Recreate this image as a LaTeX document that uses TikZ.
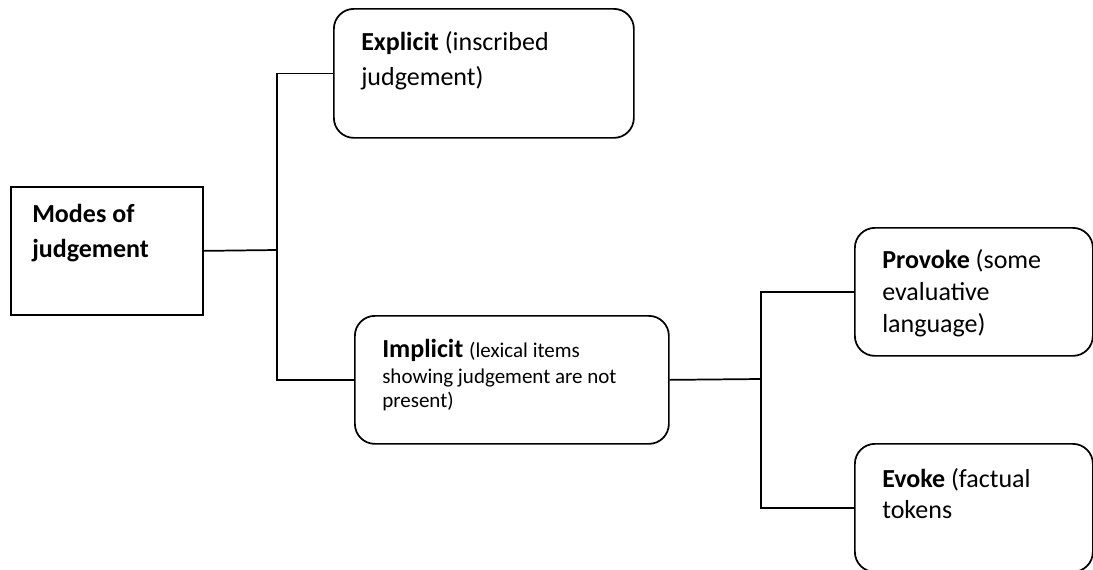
\documentclass[tikz,border=0pt]{standalone}
\usepackage{fontspec}
\setmainfont{Carlito}
\begin{document}
\begin{tikzpicture}[x=0.75pt,y=-0.75pt,
  boxline/.style={draw=black,line width=1.3pt,fill=white,inner sep=0pt,anchor=north west},
  sqbox/.style={boxline},
  rbox/.style={boxline,rounded corners=15pt},
  txt/.style={anchor=base west,inner sep=0pt,font=\fontsize{19.5pt}{23pt}\selectfont},
  conn/.style={draw=black,line width=1.3pt}]
\clip (0,0) rectangle (1093,569);
\fill[white] (0,0) rectangle (1093,569);
% boxes
\node[sqbox,minimum width=144pt,minimum height=96pt] (modes) at (10,186) {};
\node[rbox,minimum width=225pt,minimum height=96.75pt] (explicit) at (333,8) {};
\node[rbox,minimum width=235.5pt,minimum height=96pt] (implicit) at (354,315) {};
\node[rbox,minimum width=178.5pt,minimum height=96pt] (provoke) at (854,227) {};
\node[rbox,minimum width=178.5pt,minimum height=96pt] (evoke) at (854,443) {};
% junctions
\coordinate (j1) at (277,250);
\coordinate (j2) at (761,379);
% connectors
\draw[conn] (modes.east) -- (j1);
\draw[conn] (explicit.west) -| (j1);
\draw[conn] (implicit.west) -| (j1);
\draw[conn] (implicit.east) -- (j2);
\draw[conn] (provoke.west) -| (j2);
\draw[conn] (evoke.west) -| (j2);
% texts
\node[txt] (m1) at (32,222) {\textbf{Modes of}};
\node[txt] (m2) at (32,257) {\textbf{judgement}};
\node[txt] (e1) at (361,50) {\textbf{Explicit} (inscribed};
\node[txt] (e2) at (361,85) {judgement)};
\node[txt] (i1) at (382,357) {\textbf{Implicit} {\fontsize{15.75pt}{19pt}\selectfont (lexical items}};
\node[txt,font=\fontsize{15.75pt}{19pt}\selectfont] (i2) at (382,383) {showing judgement are not};
\node[txt,font=\fontsize{15.75pt}{19pt}\selectfont] (i3) at (382,407) {present)};
\node[txt] (p1) at (882,268) {\textbf{Provoke} (some};
\node[txt] (p2) at (882,300) {evaluative};
\node[txt] (p3) at (882,332) {language)};
\node[txt] (v1) at (882,487) {\textbf{Evoke} (factual};
\node[txt] (v2) at (882,518) {tokens};
\end{tikzpicture}
\end{document}
